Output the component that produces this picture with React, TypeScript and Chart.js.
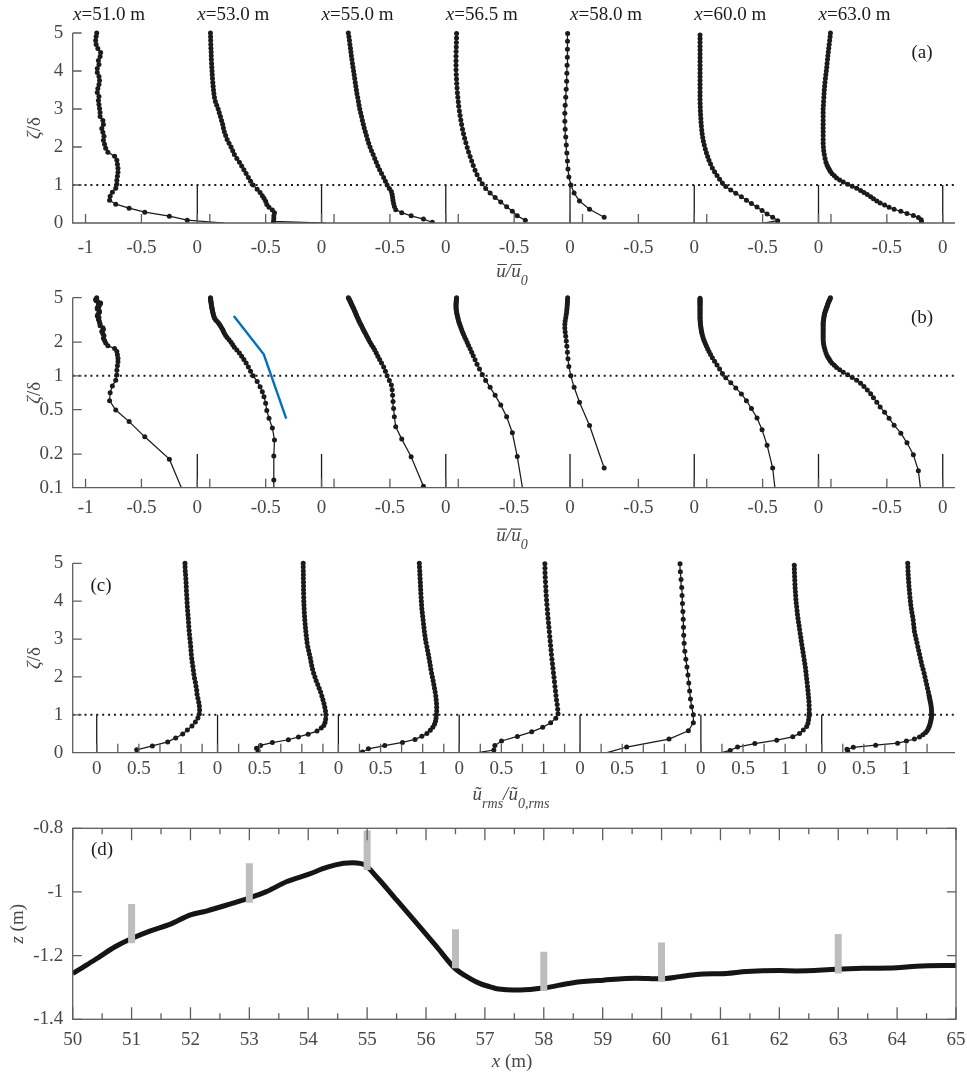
import React, { useEffect, useRef } from 'react';
import { Chart, registerables } from 'chart.js';

Chart.register(...registerables);

// ---------------- data ----------------
const STATIONS = ['51.0', '53.0', '55.0', '56.5', '58.0', '60.0', '63.0'];

// zeta/delta levels (per station) and mean (u/u0) and rms values
const Z1 = [0, 0.075, 0.18, 0.285, 0.39, 0.495, 0.6, 0.705, 0.81, 0.915, 1.02, 1.125, 1.23, 1.335, 1.44, 1.545, 1.65, 1.755, 1.86, 1.965, 2.07, 2.175, 2.28, 2.385, 2.49, 2.595, 2.7, 2.805, 2.91, 3.015, 3.12, 3.225, 3.33, 3.435, 3.54, 3.645, 3.75, 3.855, 3.96, 4.065, 4.17, 4.275, 4.38, 4.485, 4.59, 4.695, 4.8, 4.905, 5.0];
const M1 = [0.24, -0.09, -0.25, -0.47, -0.61, -0.73, -0.785, -0.78, -0.76, -0.73, -0.72, -0.72, -0.715, -0.71, -0.71, -0.715, -0.72, -0.74, -0.8, -0.82, -0.83, -0.84, -0.835, -0.845, -0.855, -0.84, -0.845, -0.87, -0.87, -0.875, -0.88, -0.885, -0.88, -0.895, -0.89, -0.88, -0.875, -0.88, -0.895, -0.895, -0.88, -0.885, -0.87, -0.865, -0.89, -0.905, -0.91, -0.905, -0.9];
const R1 = [null, 0.474, 0.66, 0.842, 0.937, 1.02, 1.075, 1.13, 1.17, 1.2, 1.217, 1.22, 1.217, 1.21, 1.2, 1.19, 1.186, 1.178, 1.17, 1.16, 1.152, 1.146, 1.14, 1.133, 1.127, 1.122, 1.118, 1.115, 1.11, 1.105, 1.1, 1.096, 1.092, 1.089, 1.086, 1.082, 1.078, 1.075, 1.072, 1.07, 1.067, 1.064, 1.062, 1.06, 1.057, 1.054, 1.05, 1.048, 1.047];

const Z2 = [0, 0.042, 0.117, 0.192, 0.267, 0.342, 0.417, 0.49, 0.57, 0.65, 0.72, 0.8, 0.89, 1.0, 1.1, 1.2, 1.3, 1.4, 1.5, 1.6, 1.7, 1.8, 1.9, 2.0, 2.1, 2.2, 2.3, 2.4, 2.5, 2.6, 2.7, 2.8, 2.9, 3.0, 3.1, 3.2, 3.3, 3.4, 3.5, 3.6, 3.7, 3.8, 3.9, 4.0, 4.1, 4.2, 4.3, 4.4, 4.5, 4.6, 4.7, 4.8, 4.9, 5.0];
const M2 = [0.036, -0.43, -0.427, -0.427, -0.421, -0.44, -0.47, -0.49, -0.5, -0.515, -0.53, -0.55, -0.576, -0.612, -0.635, -0.655, -0.675, -0.695, -0.715, -0.735, -0.758, -0.78, -0.795, -0.81, -0.828, -0.845, -0.858, -0.87, -0.878, -0.885, -0.895, -0.905, -0.915, -0.925, -0.938, -0.95, -0.958, -0.963, -0.967, -0.97, -0.973, -0.976, -0.978, -0.98, -0.982, -0.984, -0.986, -0.987, -0.988, -0.99, -0.991, -0.992, -0.993, -0.994];
const R2 = [null, 0.48, 0.462, 0.51, 0.65, 0.84, 0.96, 1.075, 1.18, 1.23, 1.26, 1.275, 1.283, 1.285, 1.28, 1.272, 1.262, 1.25, 1.237, 1.222, 1.205, 1.188, 1.17, 1.155, 1.14, 1.127, 1.117, 1.108, 1.1, 1.09, 1.08, 1.07, 1.062, 1.057, 1.052, 1.047, 1.043, 1.039, 1.035, 1.032, 1.029, 1.027, 1.025, 1.023, 1.022, 1.021, 1.02, 1.02, 1.019, 1.018, 1.018, 1.017, 1.016, 1.016];

const Z3 = [0.02, 0.103, 0.189, 0.272, 0.351, 0.431, 0.51, 0.59, 0.67, 0.75, 0.83, 0.91, 1.0, 1.1, 1.2, 1.3, 1.4, 1.5, 1.6, 1.7, 1.8, 1.9, 2.0, 2.1, 2.2, 2.3, 2.4, 2.5, 2.6, 2.7, 2.8, 2.9, 3.0, 3.1, 3.2, 3.3, 3.4, 3.5, 3.6, 3.7, 3.8, 3.9, 4.0, 4.1, 4.2, 4.3, 4.4, 4.5, 4.6, 4.7, 4.8, 4.9, 5.0];
const M3 = [-0.12, -0.2, -0.31, -0.394, -0.448, -0.46, -0.467, -0.472, -0.476, -0.48, -0.487, -0.505, -0.525, -0.54, -0.556, -0.575, -0.592, -0.608, -0.622, -0.636, -0.65, -0.665, -0.678, -0.69, -0.7, -0.71, -0.72, -0.73, -0.738, -0.746, -0.754, -0.762, -0.77, -0.776, -0.782, -0.788, -0.795, -0.8, -0.805, -0.81, -0.815, -0.82, -0.825, -0.83, -0.835, -0.84, -0.845, -0.849, -0.853, -0.858, -0.862, -0.867, -0.872];
const R3 = [0.285, 0.356, 0.55, 0.76, 0.909, 0.99, 1.05, 1.09, 1.12, 1.14, 1.152, 1.158, 1.163, 1.166, 1.166, 1.164, 1.16, 1.155, 1.148, 1.14, 1.132, 1.124, 1.115, 1.106, 1.097, 1.09, 1.083, 1.075, 1.067, 1.058, 1.05, 1.04, 1.032, 1.026, 1.02, 1.015, 1.01, 1.005, 1.0, 0.995, 0.99, 0.987, 0.984, 0.981, 0.978, 0.976, 0.974, 0.972, 0.969, 0.967, 0.965, 0.962, 0.96];

const Z4 = [0, 0.07, 0.19, 0.31, 0.43, 0.55, 0.67, 0.79, 0.91, 1.03, 1.15, 1.27, 1.39, 1.51, 1.63, 1.75, 1.87, 1.99, 2.11, 2.23, 2.35, 2.47, 2.59, 2.71, 2.83, 2.95, 3.07, 3.19, 3.31, 3.43, 3.55, 3.67, 3.79, 3.91, 4.03, 4.15, 4.27, 4.39, 4.51, 4.63, 4.75, 4.87, 4.99];
const M4 = [null, -0.4, -0.472, -0.516, -0.567, -0.62, -0.67, -0.715, -0.755, -0.785, -0.81, -0.832, -0.85, -0.866, -0.88, -0.894, -0.908, -0.92, -0.932, -0.943, -0.953, -0.962, -0.97, -0.977, -0.984, -0.99, -0.996, -1.0, -1.004, -1.008, -1.011, -1.014, -1.016, -1.018, -1.02, -1.02, -1.02, -1.02, -1.019, -1.018, -1.017, -1.016, -1.015];
const R4 = [0.22, 0.411, 0.423, 0.502, 0.69, 0.86, 0.99, 1.085, 1.146, 1.172, 1.168, 1.162, 1.154, 1.148, 1.142, 1.136, 1.13, 1.124, 1.118, 1.112, 1.106, 1.1, 1.094, 1.089, 1.084, 1.079, 1.074, 1.069, 1.064, 1.059, 1.054, 1.049, 1.045, 1.04, 1.036, 1.032, 1.029, 1.026, 1.023, 1.02, 1.018, 1.017, 1.016];

const Z5 = [0, 0.15, 0.36, 0.58, 0.79, 1.0, 1.21, 1.42, 1.63, 1.84, 2.05, 2.26, 2.47, 2.68, 2.89, 3.1, 3.31, 3.52, 3.73, 3.94, 4.15, 4.36, 4.57, 4.78, 4.99];
const M5 = [null, -0.806, -0.937, -1.027, -1.075, -1.104, -1.122, -1.13, -1.135, -1.14, -1.145, -1.15, -1.155, -1.158, -1.158, -1.155, -1.15, -1.146, -1.142, -1.14, -1.138, -1.136, -1.135, -1.134, -1.133];
const R5 = [0.32, 0.553, 1.055, 1.285, 1.344, 1.344, 1.324, 1.31, 1.3, 1.29, 1.28, 1.268, 1.255, 1.243, 1.235, 1.23, 1.227, 1.224, 1.22, 1.215, 1.21, 1.206, 1.198, 1.19, 1.186];

const Z6 = [0, 0.06, 0.15, 0.24, 0.33, 0.42, 0.51, 0.6, 0.69, 0.78, 0.87, 0.96, 1.05, 1.15, 1.25, 1.35, 1.45, 1.55, 1.65, 1.75, 1.85, 1.95, 2.05, 2.15, 2.25, 2.35, 2.45, 2.55, 2.65, 2.75, 2.85, 2.95, 3.05, 3.15, 3.25, 3.35, 3.45, 3.55, 3.65, 3.75, 3.85, 3.95, 4.05, 4.15, 4.25, 4.35, 4.45, 4.55, 4.65, 4.75, 4.85, 4.95];
const M6 = [-0.49, -0.365, -0.41, -0.46, -0.505, -0.55, -0.6, -0.645, -0.69, -0.74, -0.785, -0.83, -0.86, -0.885, -0.908, -0.93, -0.95, -0.966, -0.98, -0.992, -1.003, -1.013, -1.022, -1.03, -1.036, -1.041, -1.045, -1.048, -1.051, -1.053, -1.055, -1.057, -1.058, -1.059, -1.06, -1.06, -1.06, -1.06, -1.06, -1.06, -1.06, -1.06, -1.06, -1.06, -1.06, -1.06, -1.06, -1.06, -1.06, -1.06, -1.06, -1.06];
const R6 = [0.245, 0.348, 0.435, 0.64, 0.9, 1.09, 1.17, 1.215, 1.255, 1.27, 1.278, 1.283, 1.285, 1.285, 1.284, 1.282, 1.278, 1.274, 1.27, 1.265, 1.26, 1.255, 1.25, 1.245, 1.24, 1.233, 1.226, 1.219, 1.212, 1.205, 1.198, 1.191, 1.185, 1.178, 1.171, 1.165, 1.158, 1.152, 1.146, 1.141, 1.136, 1.131, 1.127, 1.124, 1.121, 1.118, 1.116, 1.114, 1.112, 1.11, 1.109, 1.108];

const Z7 = [0.033, 0.088, 0.142, 0.197, 0.252, 0.307, 0.362, 0.417, 0.472, 0.527, 0.582, 0.637, 0.692, 0.747, 0.802, 0.857, 0.912, 0.967, 1.022, 1.077, 1.132, 1.187, 1.242, 1.297, 1.352, 1.407, 1.462, 1.517, 1.6, 1.7, 1.8, 1.9, 2.0, 2.1, 2.2, 2.3, 2.4, 2.5, 2.6, 2.7, 2.8, 2.9, 3.0, 3.1, 3.2, 3.3, 3.4, 3.5, 3.6, 3.7, 3.8, 3.9, 4.0, 4.1, 4.2, 4.3, 4.4, 4.5, 4.6, 4.7, 4.8, 4.9, 5.0];
const M7 = [-0.19, -0.193, -0.218, -0.263, -0.32, -0.375, -0.435, -0.48, -0.52, -0.56, -0.59, -0.62, -0.645, -0.675, -0.705, -0.735, -0.77, -0.81, -0.85, -0.89, -0.922, -0.95, -0.97, -0.99, -1.005, -1.015, -1.025, -1.035, -1.045, -1.053, -1.06, -1.065, -1.068, -1.07, -1.07, -1.07, -1.07, -1.07, -1.07, -1.07, -1.07, -1.07, -1.07, -1.068, -1.066, -1.064, -1.062, -1.06, -1.057, -1.054, -1.05, -1.046, -1.042, -1.038, -1.035, -1.031, -1.028, -1.024, -1.02, -1.016, -1.012, -1.008, -1.005];
const R7 = [0.31, 0.3, 0.375, 0.64, 0.9, 1.005, 1.1, 1.16, 1.2, 1.23, 1.25, 1.265, 1.275, 1.283, 1.29, 1.295, 1.3, 1.303, 1.304, 1.304, 1.302, 1.3, 1.297, 1.293, 1.288, 1.283, 1.278, 1.273, 1.265, 1.255, 1.245, 1.235, 1.225, 1.215, 1.203, 1.19, 1.18, 1.17, 1.16, 1.15, 1.14, 1.13, 1.12, 1.11, 1.1, 1.095, 1.09, 1.085, 1.078, 1.07, 1.063, 1.057, 1.052, 1.047, 1.043, 1.039, 1.035, 1.032, 1.029, 1.026, 1.024, 1.022, 1.02];

const ZETAS = [Z1, Z2, Z3, Z4, Z5, Z6, Z7];
const MEANS = [M1, M2, M3, M4, M5, M6, M7];
const RMSS = [R1, R2, R3, R4, R5, R6, R7];

// blue reference line in panel (b), drawn in the x=53.0 m frame
const BLUE_U = [-0.785, -0.517, -0.316];
const BLUE_Z = [3.43, 1.56, 0.414];

// bed profile (panel d)
const BED_X = [50.0, 50.24, 50.46, 50.72, 51.0, 51.32, 51.66, 52.0, 52.27, 52.67, 52.98, 53.29, 53.63, 54.0, 54.31, 54.6, 54.76, 54.96, 55.16, 55.5, 55.84, 56.18, 56.49, 56.75, 56.92, 57.09, 57.2, 57.6, 57.99, 58.5, 59.01, 59.58, 59.97, 60.31, 60.59, 61.1, 61.44, 62.01, 62.29, 62.97, 63.42, 63.99, 64.33, 65.0];
const BED_Z = [-1.256, -1.229, -1.203, -1.172, -1.146, -1.122, -1.101, -1.072, -1.06, -1.038, -1.02, -0.999, -0.968, -0.945, -0.923, -0.91, -0.908, -0.915, -0.952, -1.025, -1.098, -1.172, -1.24, -1.272, -1.288, -1.298, -1.304, -1.308, -1.302, -1.285, -1.277, -1.271, -1.273, -1.266, -1.259, -1.256, -1.25, -1.247, -1.248, -1.243, -1.24, -1.238, -1.233, -1.231];
const BAR_X = [51, 53, 55, 56.5, 58, 60, 63];
const BAR_BOTTOM = [-1.161, -1.034, -0.931, -1.24, -1.311, -1.283, -1.256];
const BAR_TOP = [-1.038, -0.91, -0.807, -1.117, -1.188, -1.159, -1.132];

// tick values / labels
const MEAN_TICK_LOCAL = [-1, -0.5, 0];
const RMS_TICK_LOCAL = [0, 0.25, 0.5, 0.75, 1, 1.25];
const RMS_LABELLED = [0, 0.5, 1];
const ZETA_TICKS_LIN = [0, 1, 2, 3, 4, 5];
const ZETA_TICKS_LOG = [0.1, 0.2, 0.5, 1, 2, 5];
const X_TICKS_D = [50, 51, 52, 53, 54, 55, 56, 57, 58, 59, 60, 61, 62, 63, 64, 65];
const Z_TICKS_D = [-1.4, -1.2, -1, -0.8];

// ---------------- layout / style ----------------
const W = 967;
const H = 1072;
const XH = 40;
const SERIF = '"Liberation Serif", "Times New Roman", Times, serif';
const INK = '#1b1b1b';
const AXIS = '#5e5e5e';
const LABEL = '#474747';
const FS = 19;
const SUB = 14;

const MEAN_SHIFT = 1.1117;
const MEAN_MIN = -1.115;
const MEAN_MAX = 6.78;
const RMS_SHIFT = 1.4333;
const RMS_MIN = -0.285;
const RMS_MAX = 10.181;

const AREA_A = { left: 72.7, top: 33, right: 955, bottom: 223 };
const AREA_B = { left: 72.7, top: 297.7, right: 955, bottom: 487.7 };
const AREA_C = { left: 72.7, top: 563.3, right: 955, bottom: 752.7 };
const AREA_D = { left: 72.7, top: 828.3, right: 956, bottom: 1019.3 };

type Run = { t: string; it?: boolean; size?: number; dy?: number };

function font(r: Run) {
  return `${r.it ? 'italic ' : ''}${r.size || FS}px ${SERIF}`;
}

function drawRuns(ctx: CanvasRenderingContext2D, runs: Run[], x: number, y: number, align: 'center' | 'left') {
  const widths = runs.map((r) => {
    ctx.font = font(r);
    return ctx.measureText(r.t).width;
  });
  const total = widths.reduce((a, b) => a + b, 0);
  let cx = align === 'center' ? x - total / 2 : x;
  const spans: { x0: number; x1: number }[] = [];
  runs.forEach((r, i) => {
    ctx.font = font(r);
    ctx.textAlign = 'left';
    ctx.fillText(r.t, cx, y + (r.dy || 0));
    spans.push({ x0: cx, x1: cx + widths[i] });
    cx += widths[i];
  });
  return spans;
}

function drawRotated(ctx: CanvasRenderingContext2D, runs: Run[], cx: number, cy: number) {
  ctx.save();
  ctx.translate(cx, cy);
  ctx.rotate(-Math.PI / 2);
  ctx.textBaseline = 'middle';
  drawRuns(ctx, runs, 0, 0, 'center');
  ctx.restore();
}

function drawTag(ctx: CanvasRenderingContext2D, t: string, x: number, y: number) {
  ctx.save();
  ctx.fillStyle = INK;
  ctx.font = `${FS}px ${SERIF}`;
  ctx.textAlign = 'center';
  ctx.textBaseline = 'middle';
  ctx.fillText(t, x, y);
  ctx.restore();
}

function openAxes(chart: any, xVals: number[], yVals: number[], len: number) {
  const { ctx, chartArea: a } = chart;
  const xs = chart.scales.x;
  const ys = chart.scales.y;
  ctx.save();
  ctx.strokeStyle = AXIS;
  ctx.lineWidth = 1.3;
  ctx.beginPath();
  ctx.moveTo(a.left, a.top);
  ctx.lineTo(a.left, a.bottom);
  ctx.lineTo(a.right, a.bottom);
  xVals.forEach((v) => {
    const p = xs.getPixelForValue(v);
    ctx.moveTo(p, a.bottom);
    ctx.lineTo(p, a.bottom - len);
  });
  yVals.forEach((v) => {
    const p = ys.getPixelForValue(v);
    ctx.moveTo(a.left, p);
    ctx.lineTo(a.left + len, p);
  });
  ctx.stroke();
  ctx.restore();
}

function zetaTitle(ctx: CanvasRenderingContext2D, cy: number) {
  ctx.save();
  ctx.fillStyle = LABEL;
  drawRotated(ctx, [{ t: 'ζ', it: true }, { t: '/δ' }], 35, cy);
  ctx.restore();
}

function meanTitle(ctx: CanvasRenderingContext2D, baseline: number) {
  ctx.save();
  ctx.fillStyle = LABEL;
  ctx.textBaseline = 'alphabetic';
  const spans = drawRuns(ctx, [
    { t: 'u', it: true },
    { t: '/', it: true },
    { t: 'u', it: true },
    { t: '0', it: true, size: SUB, dy: 8 },
  ], 512, baseline, 'center');
  ctx.strokeStyle = LABEL;
  ctx.lineWidth = 1.2;
  ctx.beginPath();
  ctx.moveTo(spans[0].x0 + 1, baseline - 12);
  ctx.lineTo(spans[0].x1 + 1, baseline - 12);
  ctx.moveTo(spans[2].x0 + 1, baseline - 12);
  ctx.lineTo(spans[2].x1 + 1, baseline - 12);
  ctx.stroke();
  ctx.restore();
}

function meanXTicks() {
  const vals: number[] = [];
  const labels: string[] = [];
  STATIONS.forEach((_s, k) => {
    MEAN_TICK_LOCAL.forEach((t) => {
      vals.push(k * MEAN_SHIFT + t);
      labels.push(t === -1 && k > 0 ? '' : String(t));
    });
  });
  return { vals, labels };
}

function rmsXTicks() {
  const vals: number[] = [];
  const labels: string[] = [];
  STATIONS.forEach((_s, k) => {
    RMS_TICK_LOCAL.forEach((t) => {
      vals.push(k * RMS_SHIFT + t);
      labels.push(RMS_LABELLED.includes(t) ? String(t) : '');
    });
  });
  return { vals, labels };
}

function xScale(min: number, max: number, vals: number[], labels: string[], pad: number) {
  return {
    type: 'linear',
    position: 'bottom',
    bounds: 'data',
    min,
    max,
    afterBuildTicks: (s: any) => {
      s.ticks = vals.map((v) => ({ value: v }));
    },
    afterFit: (s: any) => {
      s.height = XH;
      s.paddingLeft = 0;
      s.paddingRight = 0;
    },
    grid: { display: false, drawTicks: false },
    border: { display: false },
    ticks: {
      autoSkip: false,
      maxRotation: 0,
      minRotation: 0,
      padding: pad,
      color: LABEL,
      font: { family: SERIF, size: FS },
      callback: (_v: any, i: number) => labels[i],
    },
  };
}

function yScale(type: string, min: number, max: number, vals: number[], width: number) {
  return {
    type,
    position: 'left',
    bounds: 'data',
    min,
    max,
    afterBuildTicks: (s: any) => {
      s.ticks = vals.map((v) => ({ value: v }));
    },
    afterFit: (s: any) => {
      s.width = width;
      s.paddingTop = 0;
      s.paddingBottom = 0;
    },
    grid: { display: false, drawTicks: false },
    border: { display: false },
    ticks: {
      autoSkip: false,
      padding: 9.4,
      color: LABEL,
      font: { family: SERIF, size: FS },
      callback: (_v: any, i: number) => String(vals[i]),
    },
  };
}

function pts(zeta: number[], vals: (number | null)[], shift: number, logY: boolean) {
  const out: { x: number; y: number }[] = [];
  const n = Math.min(zeta.length, vals.length);
  for (let i = 0; i < n; i++) {
    const v = vals[i];
    if (v === null || v === undefined) continue;
    if (logY && zeta[i] <= 0) continue;
    out.push({ x: shift + v, y: zeta[i] });
  }
  return out;
}

function profileDs(data: any[]) {
  return {
    data,
    showLine: true,
    borderColor: INK,
    backgroundColor: INK,
    borderWidth: 1.25,
    pointRadius: (c: any) => (c.raw && c.raw.y <= 0 ? 0 : 2.5),
    pointHoverRadius: 0,
    pointBackgroundColor: INK,
    pointBorderColor: INK,
    pointBorderWidth: 0,
    tension: 0,
    clip: { left: 0, top: 6, right: 0, bottom: 0 },
    order: 1,
  };
}

function lineDs(data: any[], color: string, width: number, dash: number[] | undefined, order: number) {
  return {
    data,
    showLine: true,
    borderColor: color,
    backgroundColor: color,
    borderWidth: width,
    borderDash: dash || [],
    borderCapStyle: 'butt',
    pointRadius: 0,
    pointHoverRadius: 0,
    tension: 0,
    order,
  };
}

function makeChart(canvas: HTMLCanvasElement, area: any, scales: any, datasets: any[], overlay: (c: any) => void) {
  return new Chart(canvas, {
    type: 'scatter',
    data: { datasets },
    options: {
      responsive: false,
      maintainAspectRatio: false,
      animation: false,
      events: [],
      layout: { padding: { left: 0, top: area.top, right: W - area.right, bottom: H - area.bottom - XH } },
      plugins: { legend: { display: false }, tooltip: { enabled: false }, title: { display: false } },
      scales,
    } as any,
    plugins: [{ id: 'overlay', afterDraw: overlay }],
  } as any);
}

function meanChart(canvas: HTMLCanvasElement, logY: boolean) {
  const area = logY ? AREA_B : AREA_A;
  const { vals, labels } = meanXTicks();
  const yTicks = logY ? ZETA_TICKS_LOG : ZETA_TICKS_LIN;
  const datasets: any[] = [];
  STATIONS.forEach((_s, k) => {
    datasets.push(lineDs(logY ? [{ x: k * MEAN_SHIFT, y: 0.1 }, { x: k * MEAN_SHIFT, y: 0.2 }] : [{ x: k * MEAN_SHIFT, y: 0 }, { x: k * MEAN_SHIFT, y: 1 }], INK, 1.3, undefined, 2));
  });
  datasets.push(lineDs([{ x: MEAN_MIN, y: 1 }, { x: MEAN_MAX, y: 1 }], INK, 2, [2, 3.9], 2));
  STATIONS.forEach((_s, k) => {
    datasets.push(profileDs(pts(ZETAS[k], MEANS[k], k * MEAN_SHIFT, logY)));
  });
  if (logY) {
    datasets.push(lineDs(BLUE_U.map((u, i) => ({ x: MEAN_SHIFT + u, y: BLUE_Z[i] })), '#0072BD', 2.4, undefined, 0));
  }
  const scales = {
    x: xScale(MEAN_MIN, MEAN_MAX, vals, labels, logY ? 8.8 : 13.6),
    y: yScale(logY ? 'logarithmic' : 'linear', logY ? 0.1 : 0, 5, yTicks, area.left),
  };
  return makeChart(canvas, area, scales, datasets, (chart: any) => {
    const { ctx, chartArea: a } = chart;
    openAxes(chart, vals, yTicks, 9);
    zetaTitle(ctx, (a.top + a.bottom) / 2);
    meanTitle(ctx, a.bottom + 53.5);
    if (!logY) {
      ctx.save();
      ctx.fillStyle = INK;
      ctx.textBaseline = 'alphabetic';
      STATIONS.forEach((s, k) => {
        const px = chart.scales.x.getPixelForValue(k * MEAN_SHIFT - 0.79);
        drawRuns(ctx, [{ t: 'x', it: true }, { t: '=' + s + ' m' }], px, 20, 'center');
      });
      ctx.restore();
      drawTag(ctx, '(a)', 922, 53);
    } else {
      drawTag(ctx, '(b)', 922, 318);
    }
  });
}

function rmsChart(canvas: HTMLCanvasElement) {
  const area = AREA_C;
  const { vals, labels } = rmsXTicks();
  const datasets: any[] = [];
  STATIONS.forEach((_s, k) => {
    datasets.push(lineDs([{ x: k * RMS_SHIFT, y: 0 }, { x: k * RMS_SHIFT, y: 1 }], INK, 1.3, undefined, 2));
  });
  datasets.push(lineDs([{ x: RMS_MIN, y: 1 }, { x: RMS_MAX, y: 1 }], INK, 2, [2, 3.9], 2));
  STATIONS.forEach((_s, k) => {
    datasets.push(profileDs(pts(ZETAS[k], RMSS[k], k * RMS_SHIFT, false)));
  });
  const scales = {
    x: xScale(RMS_MIN, RMS_MAX, vals, labels, 5),
    y: yScale('linear', 0, 5, ZETA_TICKS_LIN, area.left),
  };
  return makeChart(canvas, area, scales, datasets, (chart: any) => {
    const { ctx, chartArea: a } = chart;
    openAxes(chart, vals, ZETA_TICKS_LIN, 9);
    zetaTitle(ctx, (a.top + a.bottom) / 2);
    drawTag(ctx, '(c)', 101, 586);
    ctx.save();
    ctx.fillStyle = LABEL;
    ctx.textBaseline = 'alphabetic';
    drawRuns(ctx, [
      { t: 'ũ', it: true },
      { t: 'rms', it: true, size: SUB, dy: 8 },
      { t: '/', it: true },
      { t: 'ũ', it: true },
      { t: '0,rms', it: true, size: SUB, dy: 8 },
    ], 511, 800, 'center');
    ctx.restore();
  });
}

function bedChart(canvas: HTMLCanvasElement) {
  const area = AREA_D;
  const datasets: any[] = [];
  datasets.push({
    ...lineDs(BED_X.map((x, i) => ({ x, y: BED_Z[i] })), '#151515', 5, undefined, 1),
    cubicInterpolationMode: 'monotone',
  });
  BAR_X.forEach((x, i) => {
    datasets.push(lineDs([{ x, y: BAR_BOTTOM[i] }, { x, y: BAR_TOP[i] }], '#bdbdbd', 7, undefined, 0));
  });
  const scales = {
    x: xScale(50, 65, X_TICKS_D, X_TICKS_D.map(String), 9.3),
    y: yScale('linear', -1.4, -0.8, Z_TICKS_D, area.left),
  };
  return makeChart(canvas, area, scales, datasets, (chart: any) => {
    const { ctx, chartArea: a } = chart;
    const xs = chart.scales.x;
    const ys = chart.scales.y;
    ctx.save();
    ctx.strokeStyle = AXIS;
    ctx.lineWidth = 1.3;
    ctx.strokeRect(a.left, a.top, a.right - a.left, a.bottom - a.top);
    ctx.beginPath();
    X_TICKS_D.forEach((v) => {
      [v, v + 0.5].forEach((t, j) => {
        if (t > 65) return;
        const len = j === 0 ? 12 : 6;
        const p = xs.getPixelForValue(t);
        ctx.moveTo(p, a.bottom);
        ctx.lineTo(p, a.bottom - len);
        ctx.moveTo(p, a.top);
        ctx.lineTo(p, a.top + len);
      });
    });
    Z_TICKS_D.forEach((v) => {
      const p = ys.getPixelForValue(v);
      ctx.moveTo(a.left, p);
      ctx.lineTo(a.left + 9, p);
      ctx.moveTo(a.right, p);
      ctx.lineTo(a.right - 9, p);
    });
    ctx.stroke();
    ctx.restore();
    drawTag(ctx, '(d)', 102, 850);
    ctx.save();
    ctx.fillStyle = LABEL;
    ctx.textBaseline = 'alphabetic';
    drawRuns(ctx, [{ t: 'x', it: true }, { t: ' (m)' }], 512, 1067, 'center');
    drawRotated(ctx, [{ t: 'z', it: true }, { t: ' (m)' }], 18, (a.top + a.bottom) / 2);
    ctx.restore();
  });
}

export default function App() {
  const r0 = useRef<HTMLCanvasElement>(null);
  const r1 = useRef<HTMLCanvasElement>(null);
  const r2 = useRef<HTMLCanvasElement>(null);
  const r3 = useRef<HTMLCanvasElement>(null);

  useEffect(() => {
    const charts: any[] = [];
    if (r0.current) charts.push(meanChart(r0.current, false));
    if (r1.current) charts.push(meanChart(r1.current, true));
    if (r2.current) charts.push(rmsChart(r2.current));
    if (r3.current) charts.push(bedChart(r3.current));
    return () => charts.forEach((c) => c.destroy());
  }, []);

  const cs: React.CSSProperties = { position: 'absolute', left: 0, top: 0, width: W, height: H };
  return (
    <div style={{ position: 'absolute', left: 0, top: 0, width: W, height: H, background: '#fff', overflow: 'hidden' }}>
      <canvas ref={r0} width={W} height={H} style={cs} />
      <canvas ref={r1} width={W} height={H} style={cs} />
      <canvas ref={r2} width={W} height={H} style={cs} />
      <canvas ref={r3} width={W} height={H} style={cs} />
    </div>
  );
}
